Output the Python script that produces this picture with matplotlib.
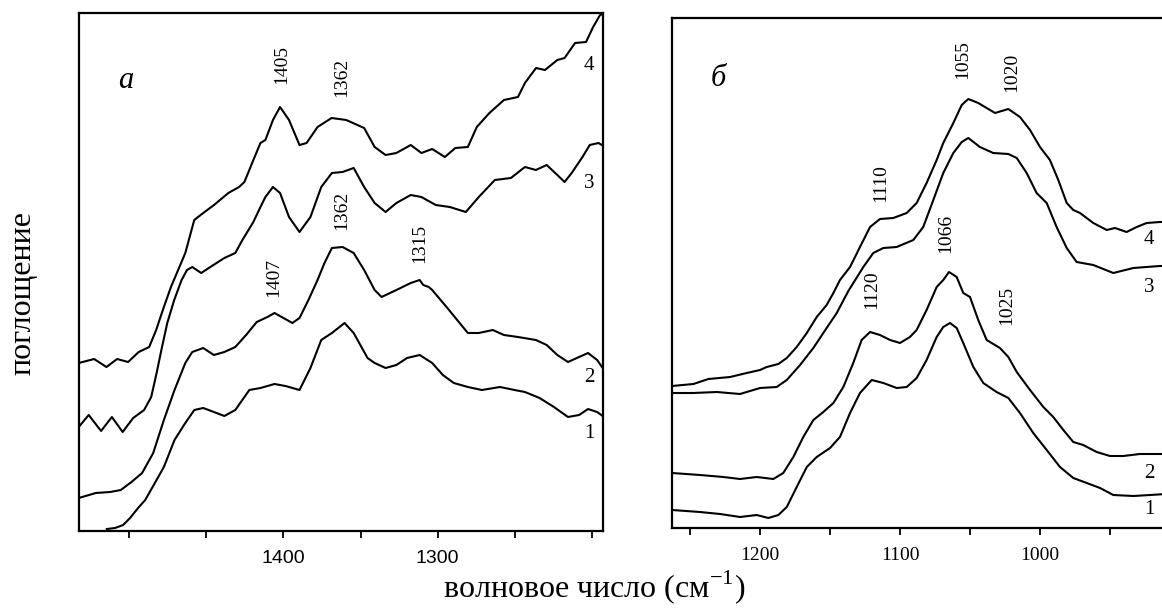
import matplotlib
matplotlib.use("Agg")
import matplotlib.pyplot as plt

plt.rcParams['font.family'] = ['Liberation Serif', 'DejaVu Serif']
plt.rcParams['mathtext.fontset'] = 'custom'
plt.rcParams['mathtext.rm'] = 'Liberation Serif'

# panel a: wavenumber (cm-1) and absorbance (arbitrary units, curves offset)
wn_a4 = [1532.7, 1522.7, 1514.7, 1507.8, 1500.7, 1493.8, 1487, 1482.5, 1477.5, 1472.9,
         1463.6, 1457.8, 1452, 1445, 1435.7, 1428.8, 1425.3, 1419.5, 1414.9, 1411.7,
         1406.8, 1402.2, 1396.4, 1389.6, 1385, 1377.9, 1368.8, 1359.3, 1347.7, 1340.9,
         1333.8, 1326.8, 1317.5, 1310.6, 1303.6, 1295.4, 1288.6, 1280.5, 1274.7, 1266.5,
         1257.1, 1248, 1243.5, 1236.3, 1230.5, 1222.5, 1217.8, 1211, 1203.9, 1199.3,
         1194.8, 1191.5]
ab_a4 = [168, 172, 164, 172, 169, 179, 184, 201, 224, 244,
         278, 311, 318, 326, 338, 344, 349, 371, 388, 391,
         411, 424, 411, 386, 388, 404, 413, 411, 403, 384,
         376, 378, 386, 378, 382, 374, 383, 384, 404, 418,
         431, 434, 448, 463, 461, 471, 473, 488, 489, 504,
         516, 518]

wn_a3 = [1532.7, 1526.2, 1518.2, 1511.2, 1504.2, 1497.4, 1490.3, 1485.7, 1482.2, 1478.7,
         1475.3, 1470.8, 1466, 1462.5, 1459.1, 1453.3, 1447.4, 1438.3, 1431.2, 1426.6,
         1419.5, 1414.9, 1411.7, 1406.8, 1402.2, 1396.4, 1389.6, 1382.5, 1375.5, 1368.6,
         1361.7, 1354.5, 1347.7, 1340.9, 1333.8, 1326.8, 1317.5, 1310.6, 1301.3, 1292.2,
         1281.8, 1273.4, 1263, 1252.6, 1243.5, 1236.4, 1229.4, 1222.5, 1217.8, 1213.2,
         1206.2, 1201.5, 1195.8, 1191.5]
ab_a3 = [104, 116, 100, 114, 99, 113, 121, 134, 158, 184,
         208, 231, 251, 261, 264, 258, 264, 273, 278, 291,
         309, 324, 334, 344, 338, 314, 299, 314, 344, 358,
         359, 363, 344, 328, 319, 328, 336, 334, 326, 324,
         319, 334, 351, 353, 364, 361, 366, 356, 349, 358,
         374, 386, 388, 384]

wn_a2 = [1532.7, 1521.6, 1512.3, 1505.4, 1498.5, 1491.6, 1484.4, 1477.5, 1470.6, 1463.6,
         1459.1, 1452, 1445.1, 1438.3, 1431.2, 1424.2, 1417.3, 1410.4, 1405.8, 1400,
         1394.2, 1389.6, 1383.8, 1377.9, 1373.4, 1368.6, 1361.7, 1354.5, 1347.7, 1340.9,
         1336.4, 1326.8, 1317.5, 1311.7, 1309.4, 1305.8, 1303.6, 1294.3, 1287.4, 1280.5,
         1273.4, 1264.3, 1257.1, 1248, 1236.4, 1229.4, 1222.5, 1215.6, 1208.4, 1202.6,
         1196.7, 1192.2]
ab_a2 = [33, 38, 39, 41, 49, 58, 78, 111, 141, 168,
         179, 183, 176, 179, 184, 196, 209, 214, 218, 213,
         208, 213, 231, 251, 268, 283, 284, 278, 261, 241,
         234, 241, 248, 251, 246, 244, 241, 224, 211, 198,
         198, 201, 196, 194, 191, 186, 176, 169, 174, 178,
         171, 161]

wn_a1 = [1514.5, 1509.1, 1503.9, 1499.4, 1494.2, 1489.6, 1487, 1477.5, 1470.6, 1463.6,
         1457.8, 1452, 1445.1, 1438.3, 1431.2, 1422.1, 1414.9, 1405.8, 1398.7, 1389.6,
         1382.5, 1375.5, 1368.6, 1360.4, 1354.5, 1345.5, 1340.9, 1333.8, 1326.8, 1319.9,
         1311.7, 1303.6, 1296.7, 1289.6, 1280.5, 1271.4, 1259.7, 1250.2, 1243.5, 1234,
         1224.7, 1215.6, 1208.4, 1202.6, 1196.7, 1192.2]
ab_a1 = [2, 3, 6, 13, 23, 31, 38, 64, 91, 108,
         121, 123, 119, 115, 121, 141, 143, 147, 145, 141,
         163, 191, 198, 208, 198, 173, 168, 163, 166, 173,
         176, 168, 156, 148, 144, 141, 144, 141, 139, 133,
         124, 114, 116, 122, 119, 114]

# panel б
wn_b4 = [1262.9, 1247.6, 1236.9, 1221.4, 1209.5, 1200, 1195.2, 1186.9, 1180.9, 1173.8,
         1166.6, 1159.5, 1152.4, 1147.6, 1142.9, 1135.7, 1128.6, 1121.4, 1114.3, 1104.8,
         1095.2, 1088.1, 1081, 1073.8, 1069.1, 1061.9, 1055.9, 1051.2, 1044.1, 1032.1,
         1022.6, 1014.3, 1007.1, 1000, 992.9, 986.9, 980.9, 976.2, 971.4, 961.9,
         952.3, 946.4, 938.1, 930.9, 923.8, 914.3, 910]
ab_b4 = [142, 144, 149, 151, 155, 158, 161, 164, 170, 181,
         195, 211, 223, 235, 248, 261, 281, 301, 309, 310,
         315, 325, 345, 368, 385, 405, 423, 429, 425, 415,
         419, 411, 398, 381, 368, 348, 325, 318, 315, 305,
         298, 300, 296, 301, 305, 306, 306]

wn_b3 = [1262.9, 1247.6, 1230.9, 1214.3, 1200, 1188.1, 1180.9, 1171.4, 1161.9, 1154.8,
         1145.2, 1136.9, 1126.2, 1119.1, 1111.9, 1102.4, 1090.5, 1083.4, 1076.2, 1069.1,
         1061.9, 1055.9, 1051.2, 1042.9, 1033.4, 1022.6, 1016.6, 1009.5, 1002.4, 995.2,
         988.1, 980.9, 973.8, 961.9, 947.6, 933.3, 914.3, 910]
ab_b3 = [135, 135, 136, 134, 140, 141, 148, 163, 180, 195,
         215, 237, 261, 275, 280, 281, 288, 301, 328, 355,
         375, 386, 390, 381, 375, 374, 370, 355, 335, 325,
         301, 280, 266, 263, 255, 260, 262, 262]

wn_b2 = [1262.9, 1242.9, 1226.2, 1214.3, 1202.4, 1190.5, 1183.4, 1176.2, 1169.1, 1161.9,
         1154.8, 1147.6, 1140.5, 1133.4, 1127.4, 1121.4, 1114.3, 1107.1, 1100, 1092.9,
         1088.1, 1081, 1073.8, 1069.1, 1065, 1059.5, 1054.8, 1050, 1044.1, 1038.1,
         1028.6, 1022.6, 1016.6, 1007.1, 997.6, 990.5, 983.3, 976.2, 969.1, 959.5,
         950, 940.5, 928.6, 910]
ab_b2 = [55, 53, 51, 49, 51, 49, 55, 71, 91, 108,
         116, 125, 141, 165, 188, 196, 193, 188, 185, 191,
         198, 218, 241, 248, 256, 251, 235, 231, 208, 188,
         180, 171, 156, 138, 121, 111, 98, 86, 83, 76,
         72, 72, 74, 74]

wn_b1 = [1262.9, 1242.9, 1228.6, 1214.3, 1202.4, 1194.1, 1186.9, 1180.9, 1173.8, 1166.6,
         1159.5, 1150, 1142.9, 1135.7, 1128.6, 1120.2, 1111.9, 1102.4, 1095.2, 1088.1,
         1081, 1073.8, 1069.1, 1064.3, 1059.5, 1054.8, 1047.6, 1040.5, 1031, 1022.6,
         1014.3, 1004.8, 995.2, 985.7, 976.2, 966.6, 957.1, 947.6, 933.3, 921.4, 910]
ab_b1 = [18, 16, 14, 11, 13, 10, 13, 21, 41, 61,
         71, 80, 91, 115, 135, 148, 145, 140, 141, 150,
         168, 191, 201, 205, 200, 185, 161, 145, 136, 130,
         115, 95, 78, 61, 50, 45, 40, 33, 32, 33, 34]

ticks_a = [1500, 1450, 1400, 1350, 1300, 1250, 1200]
ticklabels_a = ['', '', '1400', '', '1300', '', '']
ticks_b = [1250, 1200, 1150, 1100, 1050, 1000, 950]
ticklabels_b = ['', '1200', '', '1100', '', '1000', '']

W, H = 1162, 608
fig = plt.figure(figsize=(W / 100, H / 100), dpi=100)

def px_axes(l, t, r, b):
    return fig.add_axes([l / W, 1 - b / H, (r - l) / W, (b - t) / H])

ax1 = px_axes(79, 13, 603, 531)
ax2 = px_axes(672, 18, 1163, 528)

for wn, ab in [(wn_a1, ab_a1), (wn_a2, ab_a2), (wn_a3, ab_a3), (wn_a4, ab_a4)]:
    ax1.plot(wn, ab, color='black', lw=1.5, solid_joinstyle='round')
for wn, ab in [(wn_b1, ab_b1), (wn_b2, ab_b2), (wn_b3, ab_b3), (wn_b4, ab_b4)]:
    ax2.plot(wn, ab, color='black', lw=1.5, solid_joinstyle='round')

ax1.set_xlim(1532.5, 1192.9)
ax1.set_ylim(0, 518)
ax2.set_xlim(1262.9, 912.1)
ax2.set_ylim(0, 510)

for ax in (ax1, ax2):
    ax.set_yticks([])
    for s in ax.spines.values():
        s.set_linewidth(1.6)
    ax.tick_params(axis='x', direction='out', length=5, width=1.3, pad=9)
ax2.spines['right'].set_visible(False)

ax1.set_xticks(ticks_a)
ax1.set_xticklabels(ticklabels_a, family=['Liberation Sans Narrow', 'Liberation Sans'], fontsize=14)
ax2.set_xticks(ticks_b)
ax2.set_xticklabels(ticklabels_b, family='Liberation Serif', fontsize=14)

# peak labels
pk = dict(rotation=90, ha='center', va='center', fontsize=14)
ax1.text(1401, 466, '1405', **pk)
ax1.text(1362, 454, '1362', **pk)
ax1.text(1362, 321, '1362', **pk)
ax1.text(1312, 288, '1315', **pk)
ax1.text(1406, 254, '1407', **pk)
ax1.text(1502, 451, 'а', style='italic', ha='center', va='center', fontsize=22)
for lab, yy in [('4', 466), ('3', 348), ('2', 153), ('1', 98)]:
    ax1.text(1202, yy, lab, ha='center', va='center', fontsize=15)

ax2.text(1055, 468, '1055', **pk)
ax2.text(1020, 456, '1020', **pk)
ax2.text(1114, 345, '1110', **pk)
ax2.text(1067, 295, '1066', **pk)
ax2.text(1120, 238, '1120', **pk)
ax2.text(1024, 223, '1025', **pk)
ax2.text(1230, 450, 'б', style='italic', ha='center', va='center', fontsize=22)
for lab, yy in [('4', 288), ('3', 241), ('2', 55), ('1', 18)]:
    ax2.text(922, yy, lab, ha='center', va='center', fontsize=15)

fig.text(594 / W, 1 - 597 / H, 'волновое число (см$^{-1}$)', ha='center', va='baseline', fontsize=23)
fig.text(23 / W, 1 - 293 / H, 'поглощение', rotation=90, ha='center', va='center', fontsize=23)

fig.savefig('out.png', dpi=100)
